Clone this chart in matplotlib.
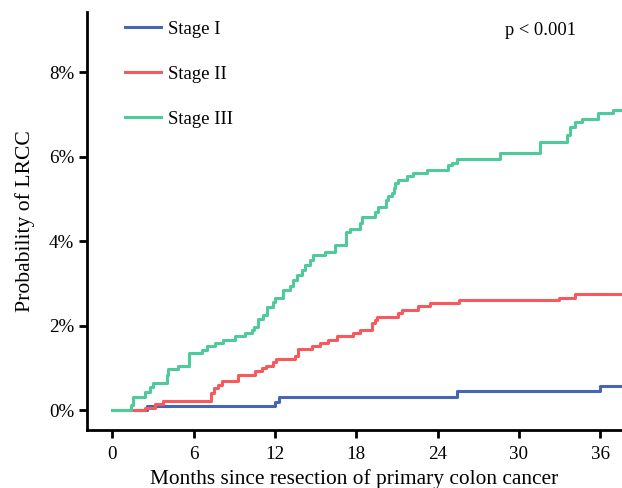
import matplotlib.pyplot as plt
from matplotlib.ticker import FuncFormatter

# step curves: (months, cumulative probability in %)
stage1_t = [0, 2.6, 12.0, 12.3, 25.4, 36.0]
stage1_p = [0, 0.10, 0.20, 0.31, 0.44, 0.58]

stage2_t = [1.47, 2.43, 3.17, 3.76, 7.30, 7.52, 7.82, 8.11, 9.29, 10.55, 11.06, 11.36, 11.87,
            12.09, 13.5, 13.72, 14.75, 15.34, 15.93, 16.6, 17.77, 18.29, 19.17, 19.4, 19.54,
            21.09, 21.39, 22.57, 23.45, 25.59, 32.96, 34.14]
stage2_p = [0, 0.05, 0.14, 0.22, 0.40, 0.52, 0.59, 0.69, 0.83, 0.93, 1.0, 1.04, 1.14,
            1.21, 1.28, 1.44, 1.51, 1.58, 1.66, 1.75, 1.82, 1.89, 2.06, 2.13, 2.20,
            2.30, 2.37, 2.46, 2.53, 2.60, 2.65, 2.75]

stage3_t = [0, 1.40, 1.55, 2.43, 2.80, 3.02, 4.06, 4.13, 4.87, 5.68, 6.64, 7.0, 7.6, 8.19,
            9.07, 9.81, 10.32, 10.47, 10.77, 11.14, 11.43, 11.87, 12.02, 12.61, 13.13, 13.35,
            13.64, 14.01, 14.23, 14.6, 14.82, 15.71, 16.45, 17.26, 17.55, 18.29, 18.44, 19.40,
            19.62, 20.21, 20.35, 20.65, 20.80, 20.87, 21.09, 21.76, 22.2, 23.23, 24.78, 25.07,
            25.44, 28.61, 31.56, 33.55, 33.78, 34.14, 34.66, 35.84, 36.95]
stage3_p = [0, 0.12, 0.31, 0.43, 0.55, 0.63, 0.83, 0.97, 1.04, 1.35, 1.42, 1.51, 1.59, 1.66,
            1.75, 1.83, 1.89, 1.96, 2.15, 2.25, 2.44, 2.55, 2.65, 2.84, 2.93, 3.08,
            3.2, 3.31, 3.43, 3.55, 3.67, 3.74, 3.9, 4.21, 4.28, 4.43, 4.57, 4.69,
            4.81, 4.97, 5.07, 5.14, 5.25, 5.37, 5.44, 5.54, 5.61, 5.68, 5.80, 5.85,
            5.94, 6.08, 6.34, 6.51, 6.70, 6.82, 6.89, 7.03, 7.1]

labels = ["Stage I", "Stage II", "Stage III"]
colors = ["#4466b4", "#f65a5c", "#4fcb9b"]
x_end = 37.6

plt.rcParams['font.family'] = ['Liberation Serif', 'DejaVu Serif']

fig = plt.figure(figsize=(6.22, 4.88), dpi=100)
ax = fig.add_axes([0.14, 0.119, 0.86, 0.856])

for t, p, lab, c in zip([stage1_t, stage2_t, stage3_t], [stage1_p, stage2_p, stage3_p], labels, colors):
    ax.step(t + [x_end], p + [p[-1]], where='post', color=c, lw=2.2, label=lab)

ax.set_xlim(-1.85, x_end)
ax.set_ylim(-0.47, 9.42)
ax.set_xticks([0, 6, 12, 18, 24, 30, 36])
ax.set_yticks([0, 2, 4, 6, 8])
ax.yaxis.set_major_formatter(FuncFormatter(lambda v, pos: f"{v:.0f}%"))

for s in ['top', 'right']:
    ax.spines[s].set_visible(False)
for s in ['left', 'bottom']:
    ax.spines[s].set_linewidth(2)
ax.tick_params(width=2, length=5.8, labelsize=13.7)
ax.tick_params(axis='x', pad=5.5)

ax.set_xlabel("Months since resection of primary colon cancer", fontsize=15.4, labelpad=5)
ax.set_ylabel("Probability of LRCC", fontsize=15.6, labelpad=10)

ax.text(0.847, 0.957, "p < 0.001", transform=ax.transAxes, fontsize=13.3,
        ha='center', va='center')

ax.legend(loc='upper left', bbox_to_anchor=(0.04, 1.02), frameon=False, fontsize=13.5,
          handlelength=1.9, labelspacing=1.48, handletextpad=0.4)

fig.savefig("out.png", dpi=100)
